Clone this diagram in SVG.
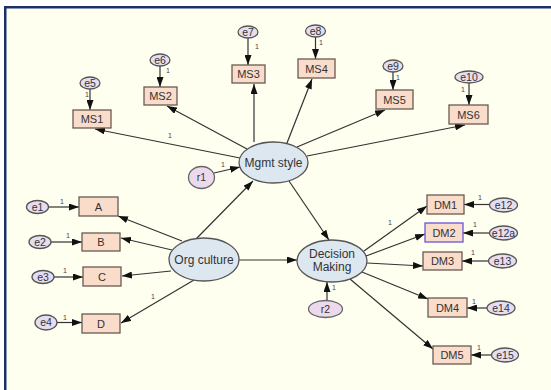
<svg xmlns="http://www.w3.org/2000/svg" width="551" height="390" viewBox="0 0 551 390">
<defs>
<marker id="ah" markerUnits="userSpaceOnUse" markerWidth="10" markerHeight="7" refX="10" refY="3.5" orient="auto">
<path d="M0,0 L10,3.5 L0,7 z" fill="#111"/>
</marker>
<style>
.bg{fill:#fffff0}
.obs rect{fill:#fadccb;stroke:#6a5a52;stroke-width:1.3}
.lat ellipse{fill:#dde7ef;stroke:#555;stroke-width:1.3}
.err ellipse{fill:#e6def0;stroke:#555;stroke-width:1.3}
.res ellipse{fill:#ecdaec;stroke:#666;stroke-width:1.3}
text{font-family:"Liberation Sans",Arial,sans-serif;fill:#333;text-anchor:middle}
.obs text{font-size:11px}
.lat text{font-size:12px}
.err text,.res text{font-size:10.5px}
.one{font-size:7px;fill:#444}
#connectors line{stroke:#333;stroke-width:1.2;marker-end:url(#ah)}
</style>
</defs>
<rect x="0" y="0" width="551" height="390" fill="#ffffff"/>
<rect class="bg" x="5" y="7" width="546" height="383"/>
<rect x="4" y="6" width="547" height="2.5" fill="#1b2f6c"/>
<rect x="4" y="6" width="2.5" height="384" fill="#1b2f6c"/>

<g id="connectors">
<line x1="240" y1="158" x2="95" y2="129"/>
<line x1="247" y1="149" x2="167" y2="106"/>
<line x1="254" y1="142" x2="254" y2="84"/>
<line x1="287" y1="143" x2="312" y2="79"/>
<line x1="297" y1="147" x2="385" y2="110"/>
<line x1="307" y1="156" x2="465" y2="125"/>
<line x1="289" y1="181" x2="329" y2="240"/>
<line x1="196" y1="239" x2="253" y2="181"/>
<line x1="239" y1="260" x2="297" y2="260"/>
<line x1="182" y1="241" x2="118" y2="216"/>
<line x1="172" y1="250" x2="121" y2="238"/>
<line x1="171" y1="271" x2="122" y2="276"/>
<line x1="194" y1="280" x2="121" y2="323"/>
<line x1="214" y1="173" x2="240" y2="167"/>
<line x1="327" y1="300" x2="327" y2="282"/>
<line x1="364" y1="251" x2="427" y2="206"/>
<line x1="366" y1="256" x2="425" y2="234"/>
<line x1="367" y1="263" x2="423" y2="266"/>
<line x1="362" y1="272" x2="428" y2="299"/>
<line x1="350" y1="279" x2="433" y2="349"/>
<line x1="48.5" y1="207" x2="79" y2="207"/>
<line x1="51" y1="242" x2="82" y2="242"/>
<line x1="54" y1="277" x2="83" y2="277"/>
<line x1="57" y1="322.5" x2="82" y2="322.5"/>
<line x1="90" y1="89" x2="90" y2="110"/>
<line x1="160" y1="66" x2="160" y2="87"/>
<line x1="248" y1="38" x2="248" y2="65"/>
<line x1="315.5" y1="37" x2="315.5" y2="59"/>
<line x1="393" y1="72" x2="393" y2="90"/>
<line x1="469" y1="83" x2="469" y2="105"/>
<line x1="490" y1="204.5" x2="464" y2="204.5"/>
<line x1="490" y1="233" x2="463" y2="233"/>
<line x1="489" y1="261" x2="462" y2="261"/>
<line x1="487" y1="308" x2="467" y2="308"/>
<line x1="492" y1="355" x2="471" y2="355"/>
</g>

<g id="labels">
<text class="one" x="170" y="138">1</text>
<text class="one" x="153" y="299">1</text>
<text class="one" x="62" y="204">1</text>
<text class="one" x="68" y="238">1</text>
<text class="one" x="65" y="273">1</text>
<text class="one" x="65" y="320">1</text>
<text class="one" x="87" y="97">1</text>
<text class="one" x="168" y="73">1</text>
<text class="one" x="257" y="49">1</text>
<text class="one" x="321" y="45">1</text>
<text class="one" x="398" y="80">1</text>
<text class="one" x="463" y="92">1</text>
<text class="one" x="223" y="167">1</text>
<text class="one" x="334" y="290">1</text>
<text class="one" x="390" y="225">1</text>
<text class="one" x="480" y="200">1</text>
<text class="one" x="475" y="227">1</text>
<text class="one" x="473" y="255">1</text>
<text class="one" x="474" y="304">1</text>
<text class="one" x="479" y="350">1</text>
</g>

<g id="Mgmt" class="lat"><ellipse cx="273.5" cy="162.5" rx="34.5" ry="20.5"/><text x="273.5" y="166.5">Mgmt style</text></g>
<g id="OrgCulture" class="lat"><ellipse cx="204" cy="259.5" rx="35" ry="21.5"/><text x="204" y="263.5">Org culture</text></g>
<g id="Decision" class="lat"><ellipse cx="332" cy="261" rx="35" ry="21"/><text x="332" y="258">Decision</text><text x="332" y="270.5">Making</text></g>

<g id="MS1" class="obs"><rect x="73" y="110" width="38" height="18"/><text x="92" y="123">MS1</text></g>
<g id="MS2" class="obs"><rect x="144" y="87" width="33" height="18"/><text x="160.5" y="100">MS2</text></g>
<g id="MS3" class="obs"><rect x="232" y="65" width="33" height="18"/><text x="248.5" y="78">MS3</text></g>
<g id="MS4" class="obs"><rect x="298" y="59" width="37" height="19"/><text x="316.5" y="72.5">MS4</text></g>
<g id="MS5" class="obs"><rect x="376" y="90" width="37" height="19"/><text x="394.5" y="103.5">MS5</text></g>
<g id="MS6" class="obs"><rect x="449" y="105" width="39" height="19"/><text x="468.5" y="118.5">MS6</text></g>

<g id="A" class="obs"><rect x="79" y="197" width="39" height="19"/><text x="98.5" y="210.5">A</text></g>
<g id="B" class="obs"><rect x="82" y="233" width="38" height="18"/><text x="101" y="246">B</text></g>
<g id="C" class="obs"><rect x="83" y="267" width="38" height="19"/><text x="102" y="280.5">C</text></g>
<g id="D" class="obs"><rect x="82" y="314" width="38" height="19"/><text x="101" y="327.5">D</text></g>

<g id="DM1" class="obs"><rect x="427" y="195" width="37" height="19"/><text x="445.5" y="208.5">DM1</text></g>
<g id="DM2" class="obs"><rect x="425" y="223" width="38" height="19" style="stroke:#6655dd"/><text x="444" y="236.5">DM2</text></g>
<g id="DM3" class="obs"><rect x="423" y="252" width="39" height="18"/><text x="442.5" y="265">DM3</text></g>
<g id="DM4" class="obs"><rect x="428" y="298" width="39" height="19"/><text x="447.5" y="311.5">DM4</text></g>
<g id="DM5" class="obs"><rect x="433" y="346" width="38" height="18"/><text x="452" y="359">DM5</text></g>

<g id="e1" class="err"><ellipse cx="37.5" cy="207" rx="11" ry="6.5"/><text x="37.5" y="210.5">e1</text></g>
<g id="e2" class="err"><ellipse cx="40" cy="242" rx="11" ry="6.5"/><text x="40" y="245.5">e2</text></g>
<g id="e3" class="err"><ellipse cx="43" cy="277" rx="11" ry="6.5"/><text x="43" y="280.5">e3</text></g>
<g id="e4" class="err"><ellipse cx="46" cy="322.5" rx="11" ry="7.5"/><text x="46" y="326">e4</text></g>
<g id="e5" class="err"><ellipse cx="90" cy="83" rx="10" ry="6"/><text x="90" y="86.5">e5</text></g>
<g id="e6" class="err"><ellipse cx="160" cy="60" rx="10" ry="6"/><text x="160" y="63.5">e6</text></g>
<g id="e7" class="err"><ellipse cx="248" cy="32" rx="10" ry="6"/><text x="248" y="35.5">e7</text></g>
<g id="e8" class="err"><ellipse cx="315.5" cy="31" rx="10" ry="6"/><text x="315.5" y="34.5">e8</text></g>
<g id="e9" class="err"><ellipse cx="393" cy="66" rx="10" ry="6"/><text x="393" y="69.5">e9</text></g>
<g id="e10" class="err"><ellipse cx="469" cy="77" rx="14" ry="6"/><text x="469" y="80.5">e10</text></g>
<g id="e12" class="err"><ellipse cx="503.5" cy="205" rx="14" ry="7"/><text x="503.5" y="208.5">e12</text></g>
<g id="e12a" class="err"><ellipse cx="503.5" cy="233" rx="14" ry="7"/><text x="503.5" y="236.5">e12a</text></g>
<g id="e13" class="err"><ellipse cx="502.5" cy="261" rx="14" ry="7"/><text x="502.5" y="264.5">e13</text></g>
<g id="e14" class="err"><ellipse cx="501" cy="308" rx="14" ry="7"/><text x="501" y="311.5">e14</text></g>
<g id="e15" class="err"><ellipse cx="505" cy="355" rx="13.5" ry="7"/><text x="505" y="358.5">e15</text></g>
<g id="r1" class="res"><ellipse cx="201.5" cy="177.5" rx="13" ry="11"/><text x="201.5" y="181">r1</text></g>
<g id="r2" class="res"><ellipse cx="325.5" cy="309" rx="17" ry="8.5"/><text x="325.5" y="312.5">r2</text></g>
</svg>
